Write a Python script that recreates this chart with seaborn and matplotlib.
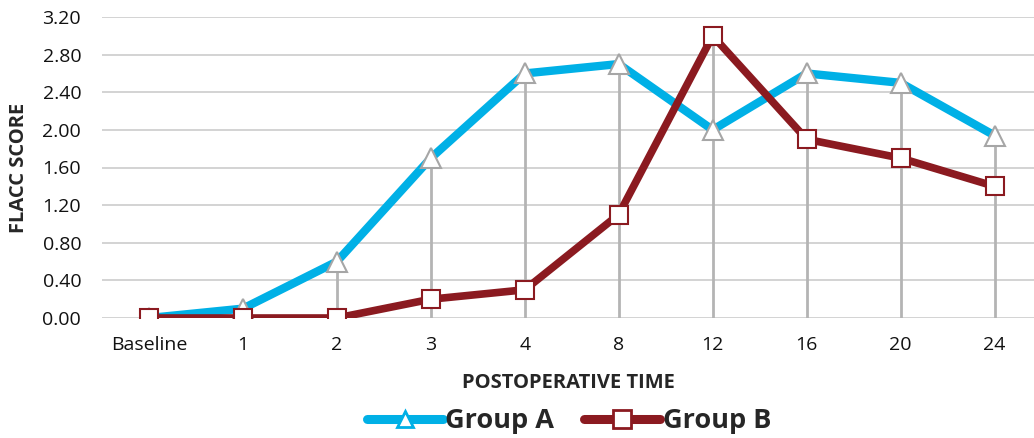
import numpy as np
import pandas as pd
import matplotlib
matplotlib.use("Agg")
import matplotlib.pyplot as plt
from matplotlib.lines import Line2D
import seaborn as sns

categories = ["Baseline", "1", "2", "3", "4", "8", "12", "16", "20", "24"]
group_a = [0.0, 0.1, 0.6, 1.7, 2.6, 2.7, 2.0, 2.6, 2.5, 1.94]
group_b = [0.0, 0.0, 0.0, 0.2, 0.3, 1.1, 3.0, 1.9, 1.7, 1.4]
yticks = [0.0, 0.4, 0.8, 1.2, 1.6, 2.0, 2.4, 2.8, 3.2]

BLUE = "#00b0e6"
RED = "#8b1a20"
GRAY = "#b4b4b4"

sns.set_theme(style="white")
plt.rcParams["font.family"] = ["Open Sans", "DejaVu Sans"]

pos = np.arange(len(categories))
df = pd.DataFrame({
    "pos": np.concatenate([pos, pos]),
    "score": group_a + group_b,
    "group": ["Group A"] * len(pos) + ["Group B"] * len(pos),
})

fig = plt.figure(figsize=(10.34, 4.38), dpi=100)
ax = fig.add_axes([102 / 1034, 1 - 318 / 438, 1 - 102 / 1034, 301 / 438])

# horizontal grid
for t in yticks:
    ax.axhline(t, color="#d0d0d0", lw=1.3, zorder=0)

# drop lines
tops = np.maximum(group_a, group_b)
ax.vlines(pos, 0, tops, color=GRAY, lw=2.0, zorder=1)

sns.lineplot(data=df[df.group == "Group A"], x="pos", y="score", ax=ax,
             color=BLUE, lw=6, marker="^", markersize=14,
             markerfacecolor="white", markeredgecolor="#a6a6a6",
             markeredgewidth=1.5, zorder=3, legend=False)
sns.lineplot(data=df[df.group == "Group B"], x="pos", y="score", ax=ax,
             color=RED, lw=5.5, marker="s", markersize=12.5,
             markerfacecolor="white", markeredgecolor=RED,
             markeredgewidth=1.5, zorder=4, legend=False)

ax.set_xlim(-0.5, 9.42)
ax.set_ylim(0, 3.2)
ax.set_yticks(yticks)
ax.set_yticklabels([f"{t:.2f}" for t in yticks], fontsize=14, color="#111111")
ax.set_xticks(pos)
ax.set_xticklabels(categories, fontsize=14, color="#111111")
ax.tick_params(axis="x", length=0, pad=13)
ax.tick_params(axis="y", length=0, pad=15)
for s in ax.spines.values():
    s.set_visible(False)
ax.set_xlabel("POSTOPERATIVE TIME", fontsize=14.5, fontweight="bold", labelpad=14)
ax.set_ylabel("FLACC SCORE", fontsize=14.5, fontweight="bold", labelpad=10)
ax.patch.set_alpha(0)

handles = [
    Line2D([], [], color=BLUE, lw=6.5, marker="^", markersize=12,
           markerfacecolor="white", markeredgecolor=BLUE, markeredgewidth=2,
           solid_capstyle="round"),
    Line2D([], [], color=RED, lw=6.5, marker="s", markersize=13,
           markerfacecolor="white", markeredgecolor=RED, markeredgewidth=2,
           solid_capstyle="round"),
]
fig.legend(handles, ["Group A", "Group B"], loc="center", ncol=2,
           bbox_to_anchor=(569 / 1034, 1 - 421 / 438), frameon=False,
           prop={"size": 19.5, "weight": "bold"}, handlelength=2.8,
           handletextpad=0.1, columnspacing=1.1, borderpad=0)

fig.savefig("out.png", dpi=100)
